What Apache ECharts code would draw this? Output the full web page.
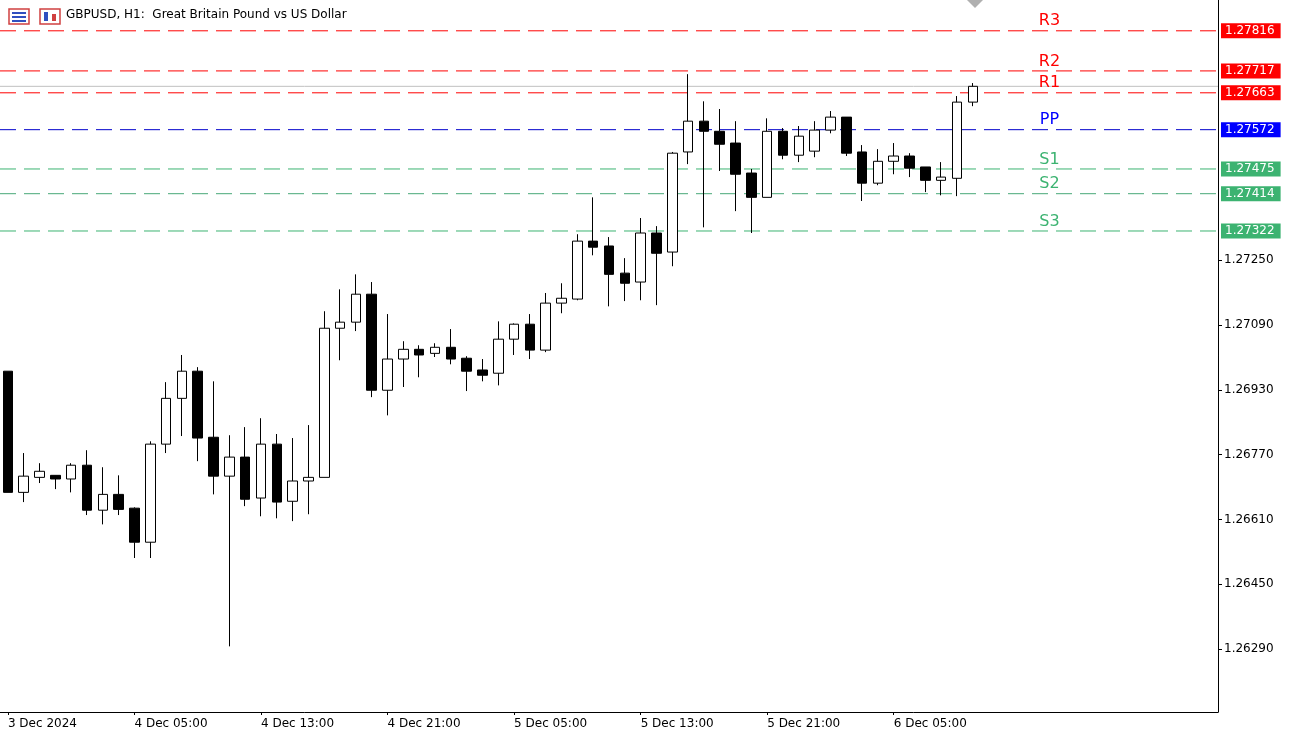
<!DOCTYPE html>
<html><head><meta charset="utf-8">
<script src="https://cdn.jsdelivr.net/npm/echarts@6/dist/echarts.min.js"></script>
<style>html,body{margin:0;padding:0;background:#fff}#c{width:1297px;height:735px}</style>
</head><body><div id="c"></div>
<script>
// OHLC per hourly candle starting 3 Dec 2024 21:00
const opens  = [1.26976,1.26677,1.26714,1.26719,1.26710,1.26744,1.26633,1.26672,1.26638,1.26554,1.26796,1.26909,1.26976,1.26813,1.26717,1.26764,
 1.26663,1.26796,1.26655,1.26705,1.26714,1.27082,1.27097,1.27166,1.26929,1.27006,1.27030,1.27020,1.27035,1.27008,1.26979,
 1.26971,1.27055,1.27092,1.27028,1.27144,1.27154,1.27297,1.27285,1.27218,1.27196,1.27317,1.27270,1.27517,1.27593,1.27568,
 1.27539,1.27465,1.27405,1.27568,1.27509,1.27519,1.27571,1.27603,1.27517,1.27440,1.27494,1.27507,1.27480,1.27447,1.27452,1.27640];
const highs  = [1.26976,1.26774,1.26749,1.26719,1.26749,1.26781,1.26739,1.26719,1.26640,1.26803,1.26949,1.27016,1.26986,1.26951,1.26818,1.26838,
 1.26860,1.26821,1.26811,1.26843,1.27124,1.27178,1.27215,1.27196,1.27117,1.27050,1.27040,1.27045,1.27080,1.27013,1.27006,
 1.27099,1.27094,1.27117,1.27169,1.27193,1.27314,1.27405,1.27307,1.27255,1.27354,1.27334,1.27517,1.27709,1.27642,1.27623,
 1.27593,1.27475,1.27600,1.27576,1.27581,1.27593,1.27618,1.27603,1.27534,1.27524,1.27539,1.27514,1.27480,1.27492,1.27655,1.27687];
const lows   = [1.26677,1.26653,1.26700,1.26685,1.26677,1.26621,1.26598,1.26621,1.26515,1.26515,1.26774,1.26816,1.26754,1.26672,1.26297,1.26643,
 1.26618,1.26613,1.26606,1.26623,1.26714,1.27003,1.27075,1.26912,1.26867,1.26937,1.26961,1.27011,1.26993,1.26927,1.26951,
 1.26941,1.27016,1.27006,1.27023,1.27119,1.27151,1.27262,1.27136,1.27149,1.27151,1.27139,1.27235,1.27487,1.27331,1.27470,
 1.27371,1.27317,1.27405,1.27499,1.27492,1.27504,1.27563,1.27507,1.27396,1.27435,1.27462,1.27455,1.27418,1.27410,1.27408,1.27630];
const closes = [1.26677,1.26717,1.26729,1.26710,1.26744,1.26633,1.26672,1.26635,1.26554,1.26796,1.26909,1.26976,1.26811,1.26717,1.26764,1.26660,
 1.26796,1.26653,1.26705,1.26714,1.27082,1.27097,1.27166,1.26929,1.27006,1.27030,1.27016,1.27035,1.27006,1.26976,1.26966,
 1.27055,1.27092,1.27028,1.27144,1.27156,1.27297,1.27282,1.27215,1.27193,1.27317,1.27267,1.27514,1.27593,1.27568,1.27536,
 1.27462,1.27405,1.27568,1.27509,1.27556,1.27571,1.27603,1.27514,1.27440,1.27494,1.27507,1.27477,1.27447,1.27455,1.27640,1.27679];
const pivotNames  = ['R3','R2','R1','PP','S1','S2','S3'];
const pivotValues = [1.27816,1.27717,1.27663,1.27572,1.27475,1.27414,1.27322];
const yTicks = [1.26290,1.26450,1.26610,1.26770,1.26930,1.27090,1.27250];
const totalSlots = 77;
const lastLabelIndex = 56;

const mon=['Jan','Feb','Mar','Apr','May','Jun','Jul','Aug','Sep','Oct','Nov','Dec'];
const categories=[]; const labelsText=[];
for(let i=0;i<totalSlots;i++){const d=new Date(Date.UTC(2024,11,3,21+i));
 const hh=String(d.getUTCHours()).padStart(2,'0');
 categories.push(d.getUTCDate()+' '+mon[d.getUTCMonth()]+' '+hh+':00');
 labelsText.push(i===0?'3 Dec 2024':d.getUTCDate()+' '+mon[d.getUTCMonth()]+' '+hh+':00');}
const ohlc=opens.map((o,i)=>[o,closes[i],lows[i],highs[i]]);

const pColor=n=>n[0]==='R'?'#ff0000':(n==='PP'?'#0000ff':'#3cb371');
const lineCol=(n,i)=>n[0]==='R'?'#ff0000':(n==='PP'?'#0000cc':(i===5?'#48a878':'#3cb371'));
const lastClose=closes[closes.length-1];
const showIdx=i=>i%8===0&&i<=lastLabelIndex;
const nameX=0.8616;

const lineSeries=[{type:'line',xAxisIndex:1,data:[[0,lastClose],[1,lastClose]],symbol:'none',silent:true,z:1,
  lineStyle:{color:'#c0c0c0',width:1,type:'solid'}}];
pivotValues.forEach((v,i)=>{const n=pivotNames[i];
 lineSeries.push({type:'line',xAxisIndex:1,symbol:'none',silent:true,z:2,
  data:[[0,v],[1,v]],
  lineStyle:{color:lineCol(n,i),width:1,type:[16,8],opacity:1},
  endLabel:{show:true,distance:3,formatter:v.toFixed(5),color:'#fff',backgroundColor:pColor(n),padding:[2,6,1,4],fontSize:12,fontFamily:'DejaVu Sans'}});
});
lineSeries.push({type:'scatter',xAxisIndex:1,symbolSize:1,itemStyle:{opacity:0},silent:true,z:4,
 data:pivotNames.map((n,i)=>({value:[nameX,pivotValues[i]],
  label:{show:true,position:'top',distance:1,formatter:n,color:pColor(n),opacity:1,fontSize:16,fontFamily:'DejaVu Sans'}}))});

const chart=echarts.init(document.getElementById('c'));
chart.setOption({
 animation:false,
 grid:{left:-10,right:79,top:0,bottom:23},
 xAxis:[{type:'category',data:categories,boundaryGap:true,
  axisLine:{lineStyle:{color:'#000'}},
  axisTick:{show:true,alignWithLabel:true,interval:showIdx,length:3,lineStyle:{color:'#000'}},
  axisLabel:{interval:showIdx,align:'left',margin:6,color:'#000',fontSize:12,fontFamily:'DejaVu Sans',
   formatter:(v,i)=>labelsText[i]},splitLine:{show:false}},
  {type:'value',min:0,max:1,show:false}],
 yAxis:{type:'value',position:'right',min:1.26135,max:1.27892,scale:true,
  axisLine:{show:true,onZero:false,lineStyle:{color:'#000'}},
  axisTick:{show:true,customValues:yTicks,length:4,lineStyle:{color:'#000'}},
  axisLabel:{customValues:yTicks,margin:6,color:'#000',fontSize:12,fontFamily:'DejaVu Sans',formatter:v=>v.toFixed(5)},
  splitLine:{show:false}},
 series:lineSeries.concat([
  {type:'candlestick',data:ohlc,barWidth:10,z:3,
   itemStyle:{color:'#ffffff',color0:'#000000',borderColor:'#000000',borderColor0:'#000000',borderWidth:1}}
 ]),
 graphic:[
  {type:'rect',shape:{x:9,y:9,width:20,height:15},style:{fill:'#fff',stroke:'#d04040',lineWidth:1.5}},
  {type:'rect',shape:{x:12,y:12,width:14,height:2},style:{fill:'#3050c0'}},
  {type:'rect',shape:{x:12,y:16,width:14,height:2},style:{fill:'#3050c0'}},
  {type:'rect',shape:{x:12,y:20,width:14,height:2},style:{fill:'#3050c0'}},
  {type:'rect',shape:{x:40,y:9,width:20,height:15},style:{fill:'#fff',stroke:'#d04040',lineWidth:1.5}},
  {type:'rect',shape:{x:44,y:12,width:4,height:9},style:{fill:'#3050c0'}},
  {type:'rect',shape:{x:52,y:14,width:4,height:7},style:{fill:'#d04040'}},
  {type:'text',left:66,top:9,style:{text:'GBPUSD, H1:  Great Britain Pound vs US Dollar',fill:'#000',font:'12px "DejaVu Sans"'}},
  {type:'polygon',shape:{points:[[967,0],[983,0],[975,8]]},style:{fill:'#b0b0b0'}}
 ]
});
</script></body></html>
